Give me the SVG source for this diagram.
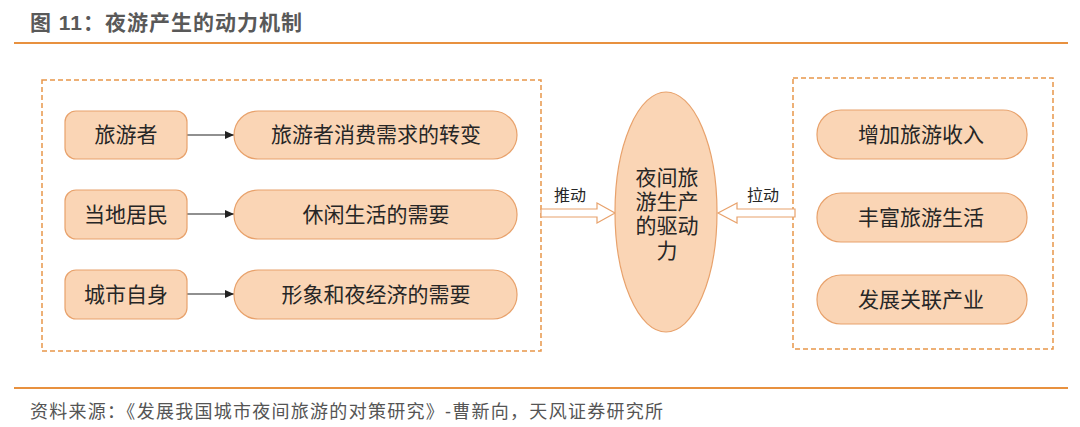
<svg xmlns="http://www.w3.org/2000/svg" width="1080" height="427" viewBox="0 0 1080 427">
<defs>
<style>
.t{font-family:"Liberation Sans","Noto Sans CJK SC",sans-serif;fill:#262626;}
.box{fill:#FAD5B5;stroke:#E8A26C;stroke-width:1.2;}
.dash{fill:none;stroke:#E8964A;stroke-width:1.5;stroke-dasharray:5,3;}
.rule{stroke:#E8913F;stroke-width:2;}
.link{stroke:#222;stroke-width:1.2;fill:none;}
.blk{fill:#fff;stroke:#E8A26C;stroke-width:1.2;}
</style>
<marker id="ah" markerWidth="10" markerHeight="10" refX="9" refY="5" orient="auto" markerUnits="userSpaceOnUse">
<path d="M0,1 L9,5 L0,9 Z" fill="#222"/>
</marker>
</defs>
<rect width="1080" height="427" fill="#fff"/>
<text x="30" y="30" class="t" font-size="21" font-weight="bold" style="fill:#595959" textLength="272">图 11：夜游产生的动力机制</text>
<line x1="14" y1="43" x2="1068" y2="43" class="rule"/>
<rect x="42" y="80" width="499" height="271" class="dash"/>
<rect x="793" y="78" width="260" height="271" class="dash"/>
<g id="connectors">
<line x1="187" y1="135" x2="234" y2="135" class="link" marker-end="url(#ah)"/>
<line x1="187" y1="214" x2="234" y2="214" class="link" marker-end="url(#ah)"/>
<line x1="187" y1="294" x2="234" y2="294" class="link" marker-end="url(#ah)"/>
<polygon points="541,209 597,209 597,203 615,213 597,223 597,217 541,217" class="blk"/>
<polygon points="795,209 737,209 737,203 718,213 737,223 737,217 795,217" class="blk"/>
<text x="570" y="201" class="t" font-size="16" text-anchor="middle">推动</text>
<text x="763" y="201" class="t" font-size="16" text-anchor="middle">拉动</text>
</g>
<g id="n1"><rect x="65" y="111" width="122" height="48" rx="11" class="box"/><text x="126" y="142" class="t" font-size="21" text-anchor="middle">旅游者</text></g>
<g id="n2"><rect x="65" y="190" width="122" height="49" rx="11" class="box"/><text x="126" y="222" class="t" font-size="21" text-anchor="middle">当地居民</text></g>
<g id="n3"><rect x="65" y="270" width="122" height="49" rx="11" class="box"/><text x="126" y="302" class="t" font-size="21" text-anchor="middle">城市自身</text></g>
<g id="n4"><rect x="234" y="111" width="283" height="48" rx="24" class="box"/><text x="376" y="142" class="t" font-size="21" text-anchor="middle">旅游者消费需求的转变</text></g>
<g id="n5"><rect x="234" y="190" width="283" height="49" rx="24" class="box"/><text x="376" y="222" class="t" font-size="21" text-anchor="middle">休闲生活的需要</text></g>
<g id="n6"><rect x="234" y="270" width="283" height="49" rx="24" class="box"/><text x="376" y="302" class="t" font-size="21" text-anchor="middle">形象和夜经济的需要</text></g>
<g id="center"><ellipse cx="666" cy="212" rx="51" ry="120" class="box"/>
<text class="t" font-size="21" text-anchor="middle"><tspan x="667" y="185">夜间旅</tspan><tspan x="667" y="209">游生产</tspan><tspan x="667" y="233">的驱动</tspan><tspan x="667" y="258">力</tspan></text></g>
<g id="r1"><rect x="817" y="110" width="210" height="49" rx="24" class="box"/><text x="921" y="142" class="t" font-size="21" text-anchor="middle">增加旅游收入</text></g>
<g id="r2"><rect x="817" y="193" width="210" height="49" rx="24" class="box"/><text x="921" y="225" class="t" font-size="21" text-anchor="middle">丰富旅游生活</text></g>
<g id="r3"><rect x="817" y="275" width="210" height="49" rx="24" class="box"/><text x="921" y="307" class="t" font-size="21" text-anchor="middle">发展关联产业</text></g>
<line x1="14" y1="388" x2="1068" y2="388" class="rule"/>
<text x="30" y="418" class="t" font-size="18" style="fill:#555" textLength="633">资料来源：《发展我国城市夜间旅游的对策研究》-曹新向，天风证券研究所</text>
</svg>
